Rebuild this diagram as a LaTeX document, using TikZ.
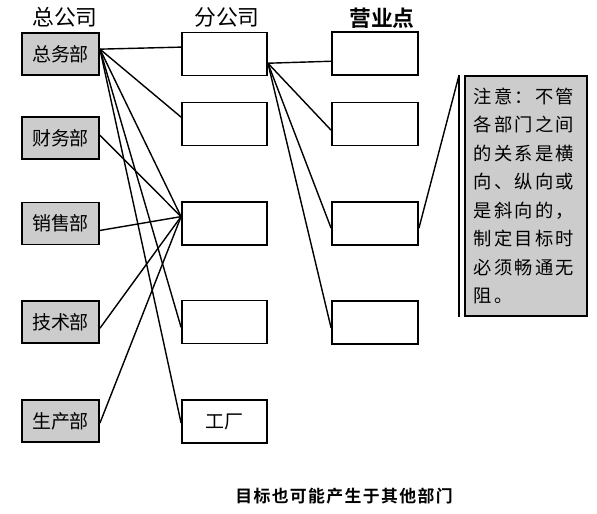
\documentclass[tikz,border=0pt]{standalone}
\usepackage{fontspec}
\setmainfont{Noto Sans CJK SC}[BoldFont={Noto Sans CJK SC Bold}]
\newfontfamily\notefont[LetterSpace=12]{Noto Sans CJK SC}
\newfontfamily\capfont[LetterSpace=8]{Noto Sans CJK SC Bold}
\usetikzlibrary{positioning}

\begin{document}
\begin{tikzpicture}[x=0.025cm,y=0.025cm,
		dept/.style={draw,line width=1.3pt,fill=black!20,minimum width=1.925cm,minimum height=1.05cm,inner sep=0pt,font=\fontsize{13.5pt}{13.5pt}\selectfont},
		branch/.style={draw,line width=1.3pt,fill=white,minimum width=2.125cm,minimum height=1.075cm,inner sep=0pt,font=\fontsize{13.5pt}{13.5pt}\selectfont},
		shop/.style={branch,minimum width=2.15cm},
		head/.style={font=\fontsize{15.5pt}{15.5pt}\selectfont},
		link/.style={line width=1pt}]
		\useasboundingbox (0,0) rectangle (597,513);
		\node[head] (hq) at (65,496) {总公司};
		\node[head] (fg) at (227,496) {分公司};
		\node[head,font=\fontsize{15.5pt}{15.5pt}\selectfont\bfseries] (yy) at (382,495) {营业点};
		\node[dept] (zw) at (60.5,459) {总务部};
		\node[dept] (cw) at (60.5,375) {财务部};
		\node[dept] (xs) at (60.5,289.5) {销售部};
		\node[dept] (js) at (60.5,191) {技术部};
		\node[dept] (sc) at (60.5,92) {生产部};
		\node[branch] (f1) at (224.5,459) {};
		\node[branch] (f2) at (224.5,389) {};
		\node[branch] (f3) at (224.5,289.5) {};
		\node[branch] (f4) at (224.5,191) {};
		\node[branch] (gc) at (224.5,91.5) {工厂};
		\node[shop] (y1) at (375,459.5) {};
		\node[shop] (y2) at (375,389) {};
		\node[shop] (y3) at (375,289.5) {};
		\node[shop] (y4) at (375,190.5) {};
		\node[draw,line width=1.3pt,fill=black!20,minimum width=3.05cm,minimum height=6cm,inner sep=0pt,text width=2.6cm,align=left,font=\notefont\fontsize{13pt}{20.3pt}\selectfont] (note) at (526,317) {注意：不管\\各部门之间\\的关系是横\\向、纵向或\\是斜向的，\\制定目标时\\必须畅通无\\阻。};
		\coordinate (bartop) at ([xshift=-0.125cm]note.north west);
		\coordinate (barbot) at ([xshift=-0.125cm]note.south west);
		\draw[line width=1.1pt] (bartop) -- (barbot);
		\foreach \a in {f1.171,f2.171,f3.171,f4.187,gc.182}
			\draw[link] (zw.7) -- (\a);
		\foreach \d in {cw.4,xs.350,js.351,sc.357}
			\draw[link] (\d) -- (f3.171);
		\foreach \s in {y1.190,y2.188,y3.186,y4.187}
			\draw[link] (f1.348) -- (\s);
		\draw[link] (y3.354) -- (bartop);
		\node[font=\capfont\fontsize{12pt}{12pt}\selectfont] (cap) at (344,17) {目标也可能产生于其他部门};
	\end{tikzpicture}
\end{document}
